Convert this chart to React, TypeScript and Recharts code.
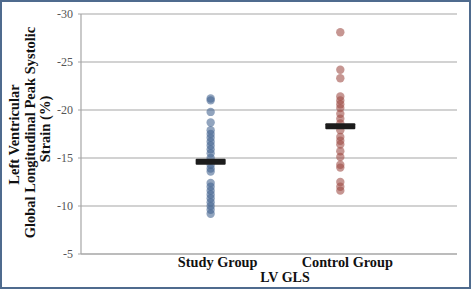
import React from "react";
import { ScatterChart, Scatter, XAxis, YAxis, CartesianGrid } from "recharts";

const categories = ["Study Group", "Control Group"];
const studyValues = [-21.2, -21.0, -19.8, -18.7, -17.9, -17.5, -17.1, -16.7, -16.3, -15.9, -15.5, -15.0, -14.3, -13.9, -13.6, -12.4, -12.0, -11.6, -11.2, -10.8, -10.4, -10.0, -9.6, -9.2];
const controlValues = [-28.1, -24.2, -23.3, -21.4, -21.0, -20.6, -20.2, -19.6, -19.1, -18.6, -17.9, -17.2, -16.8, -16.4, -15.7, -15.1, -14.3, -14.0, -12.5, -12.0, -11.6];
const meanValues = [-14.6, -18.3];
const yTicks = [-30, -25, -20, -15, -10, -5];
const xTicks = [1, 2];

const studyData = studyValues.map((v) => ({ x: 1, y: v }));
const controlData = controlValues.map((v) => ({ x: 2, y: v }));
const meanData = meanValues.map((v, i) => ({ x: i + 1, y: v }));

const serif = "'Liberation Serif', 'Times New Roman', serif";

const BlueDot = (p: any) => <circle cx={p.cx} cy={p.cy} r={4.2} fill="#41628f" fillOpacity={0.58} />;
const RedDot = (p: any) => <circle cx={p.cx} cy={p.cy} r={4.2} fill="#9c4a43" fillOpacity={0.58} />;
const MeanBar = (p: any) => <rect x={p.cx - 15} y={p.cy - 3} width={30} height={6} rx={1} fill="#1c1c1c" />;

const XTick = (p: any) => (
  <text x={p.x + 7} y={p.y} dy={9} textAnchor="middle" fontFamily={serif} fontWeight="bold" fontSize={14.3} fill="#111">
    {categories[p.payload.value - 1]}
  </text>
);

const YLabel = () => (
  <g fontFamily={serif} fontWeight="bold" fontSize={14.5} fill="#111">
    <text x={19} y={134.5} transform="rotate(-90 19 134.5)" textAnchor="middle">Left Ventricular</text>
    <text x={34.5} y={132.5} transform="rotate(-90 34.5 132.5)" textAnchor="middle">Global Longitudinal Peak Systolic</text>
    <text x={49.5} y={129} transform="rotate(-90 49.5 129)" textAnchor="middle">Strain (%)</text>
  </g>
);

const XLabel = () => (
  <text x={285} y={282} textAnchor="middle" fontFamily={serif} fontWeight="bold" fontSize={14} fill="#111">LV GLS</text>
);

export default function App() {
  return (
    <div style={{ position: "absolute", left: 0, top: 0, width: 472, height: 289, background: "#fff" }}>
      <div style={{ position: "absolute", left: 0, top: 0, width: 471, height: 289, boxSizing: "border-box", border: "2px solid #4f6b8e", pointerEvents: "none", zIndex: 2 }} />
      <ScatterChart width={472} height={289} margin={{ top: 14, right: 15, bottom: 0, left: 0 }}>
        <CartesianGrid vertical={false} stroke="#a6a6a6" strokeWidth={1.2} />
        <XAxis
          type="number"
          dataKey="x"
          domain={[0, 2.9]}
          ticks={xTicks}
          height={35}
          tickSize={0}
          tickMargin={4}
          tick={<XTick />}
          axisLine={{ stroke: "#a6a6a6", strokeWidth: 1.2 }}
          tickLine={false}
          allowDataOverflow
          label={<XLabel />}
        />
        <YAxis
          type="number"
          dataKey="y"
          domain={[-30, -5]}
          reversed
          ticks={yTicks}
          width={81}
          tickSize={3}
          tickMargin={5}
          axisLine={{ stroke: "#a6a6a6", strokeWidth: 1.2 }}
          tickLine={{ stroke: "#a6a6a6" }}
          tick={{ fontFamily: serif, fontSize: 12, fill: "#555" }}
          label={<YLabel />}
        />
        <Scatter data={studyData} shape={<BlueDot />} isAnimationActive={false} />
        <Scatter data={controlData} shape={<RedDot />} isAnimationActive={false} />
        <Scatter data={meanData} shape={<MeanBar />} isAnimationActive={false} />
      </ScatterChart>
    </div>
  );
}
